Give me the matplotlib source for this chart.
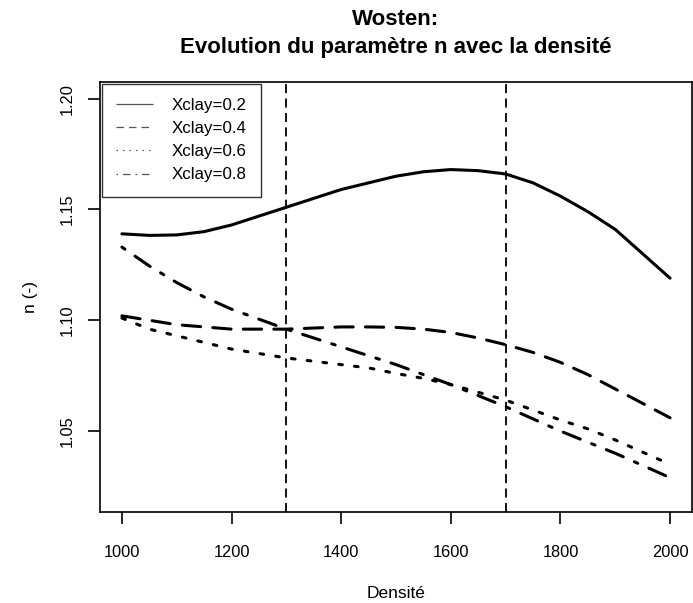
"""Wosten: evolution of parameter n with density, for four clay fractions."""
import numpy as np
import matplotlib
matplotlib.use("Agg")
import matplotlib.pyplot as plt

plt.rcParams["font.family"] = ["Liberation Sans", "DejaVu Sans"]

# densities (x) and n(-), one series per Xclay value
densite = [1000, 1050, 1100, 1150, 1200, 1250, 1300, 1350, 1400, 1450, 1500,
           1550, 1600, 1650, 1700, 1750, 1800, 1850, 1900, 1950, 2000]
n_clay02 = [1.139, 1.1383, 1.1385, 1.140, 1.143, 1.147, 1.151, 1.155, 1.159,
            1.162, 1.165, 1.167, 1.168, 1.1675, 1.166, 1.162, 1.156, 1.149,
            1.141, 1.130, 1.119]
n_clay04 = [1.102, 1.100, 1.098, 1.097, 1.096, 1.096, 1.096, 1.0965, 1.097,
            1.097, 1.0968, 1.096, 1.0945, 1.092, 1.089, 1.0855, 1.081, 1.0755,
            1.069, 1.0625, 1.056]
n_clay06 = [1.101, 1.096, 1.093, 1.090, 1.087, 1.085, 1.083, 1.0815, 1.080,
            1.0785, 1.076, 1.0738, 1.071, 1.0675, 1.064, 1.0595, 1.055, 1.051,
            1.046, 1.0405, 1.035]
n_clay08 = [1.133, 1.1245, 1.117, 1.1105, 1.105, 1.1005, 1.096, 1.092, 1.088,
            1.084, 1.080, 1.0755, 1.071, 1.066, 1.061, 1.0555, 1.050, 1.045,
            1.040, 1.0345, 1.029]
labels = ["Xclay=0.2", "Xclay=0.4", "Xclay=0.6", "Xclay=0.8"]
vlines_x = [1300, 1700]
xticks = [1000, 1200, 1400, 1600, 1800, 2000]
yticks = [1.05, 1.10, 1.15, 1.20]

# R-like line types (on/off, scaled by linewidth)
LTY = [(0, ()), (0, (6, 4)), (0, (1.2, 4)), (0, (1.2, 4, 6, 4))]


def main():
    fig = plt.figure(figsize=(6.93, 6.03), dpi=100)
    ax = fig.add_axes([100 / 693, 1 - 512 / 603, 592 / 693, 430 / 603])

    series = [n_clay02, n_clay04, n_clay06, n_clay08]
    for ys, ls in zip(series, LTY):
        ax.plot(densite, ys, color="black", lw=2.2, linestyle=ls,
                dash_capstyle="round", solid_capstyle="round")
    for xv in vlines_x:
        ax.axvline(xv, color="black", lw=1.3, linestyle=(0, (5, 3)))

    ax.set_xlim(960, 2040)
    ax.set_ylim(1.0135, 1.2075)
    ax.set_xticks(xticks)
    ax.set_xticklabels([str(t) for t in xticks])
    ax.set_yticks(yticks)
    ax.set_yticklabels([f"{t:.2f}" for t in yticks], rotation=90, va="center")
    ax.tick_params(direction="out", length=8.5, width=1.2, labelsize=11.8)
    ax.tick_params(axis="x", pad=15)
    ax.tick_params(axis="y", pad=10)
    for sp in ax.spines.values():
        sp.set_linewidth(1.2)

    ax.set_xlabel("Densité", fontsize=12.5, labelpad=19)
    ax.set_ylabel("n (-)", fontsize=12.5, labelpad=15)
    ax.set_title("Wosten:\nEvolution du paramètre n avec la densité",
                 fontsize=16, fontweight="bold", pad=21, linespacing=1.4)

    # legend drawn with thin grey lines like R's legend()
    handles = [plt.Line2D([], [], color="#555555", lw=0.9, linestyle=ls)
               for ls in LTY]
    leg = ax.legend(handles, labels, loc="upper left", fontsize=12.2,
                    frameon=True, fancybox=False, borderaxespad=0.1,
                    handlelength=2.2, handletextpad=1.1, labelspacing=0.48,
                    borderpad=0.85)
    leg.get_frame().set_edgecolor("black")
    leg.get_frame().set_linewidth(1.0)

    fig.savefig("out.png", dpi=100)
    plt.close(fig)


if __name__ == "__main__":
    main()
